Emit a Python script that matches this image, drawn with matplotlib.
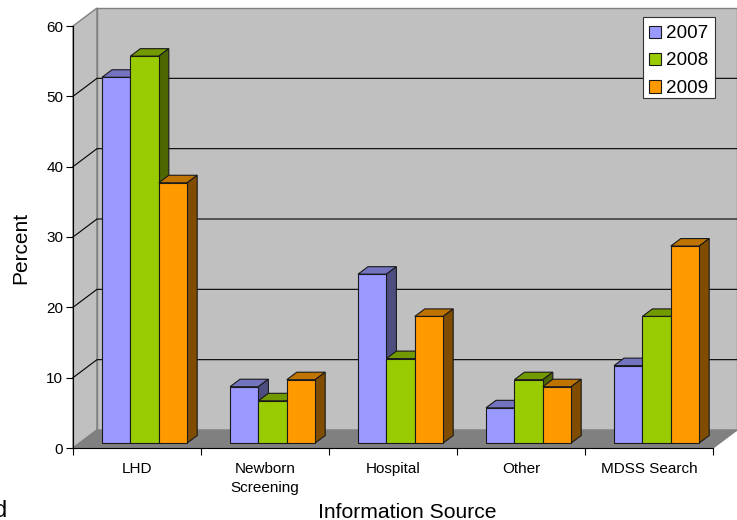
import matplotlib
matplotlib.use("Agg")
import matplotlib.pyplot as plt
from matplotlib.patches import Polygon, Rectangle

plt.rcParams['font.family'] = ['Liberation Sans', 'DejaVu Sans']

# data
categories = ["LHD", "Newborn\nScreening", "Hospital", "Other", "MDSS Search"]
years = ["2007", "2008", "2009"]
values_2007 = [52, 8, 24, 5, 11]
values_2008 = [55, 6, 12, 9, 18]
values_2009 = [37, 9, 18, 8, 28]
series = [values_2007, values_2008, values_2009]
y_ticks = [0, 10, 20, 30, 40, 50, 60]

# front, top, side colours of each series
colors = [("#9999FF", "#7373BF", "#4D4D80"),
          ("#99CC00", "#739900", "#4D6600"),
          ("#FF9900", "#BF7300", "#804D00")]
WALL = "#C0C0C0"
FLOOR = "#808080"

W, H = 737, 520
LEFT, RIGHT, BOTTOM, TOP = 73, 713, 448, 26

fig = plt.figure(figsize=(W / 100, H / 100), dpi=100)
ax = fig.add_axes([LEFT / W, 1 - BOTTOM / H, (RIGHT - LEFT) / W, (BOTTOM - TOP) / H])
ax.set_xlim(0, len(categories))
ax.set_ylim(0, 60)
ax.patch.set_visible(False)

# pixel sizes of the fake 3d depth, in data units
px_x = len(categories) / (RIGHT - LEFT)
px_y = 60 / (BOTTOM - TOP)
DX, DY = 24 * px_x, 18 * px_y


def poly(points, face, edge, lw, z):
    ax.add_patch(Polygon(points, closed=True, facecolor=face, edgecolor=edge,
                         linewidth=lw, zorder=z, clip_on=False, joinstyle="miter"))


def fig_rect(x0, y0, x1, y1, face, edge, lw, z):
    # rectangle given in picture pixels, y going down
    fig.add_artist(Rectangle((x0 / W, 1 - y1 / H), (x1 - x0) / W, (y1 - y0) / H,
                             transform=fig.transFigure, facecolor=face, edgecolor=edge,
                             linewidth=lw, zorder=z))


# walls and floor
n = len(categories)
poly([(0, 0), (DX, DY), (DX, 60 + DY), (0, 60)], WALL, FLOOR, 1.0, 1)
poly([(DX, DY), (n + DX, DY), (n + DX, 60 + DY), (DX, 60 + DY)], WALL, FLOOR, 1.0, 1)
poly([(0, 0), (n, 0), (n + DX, DY), (DX, DY)], FLOOR, FLOOR, 1.0, 1)

# grid lines on side wall and back wall
for t in y_ticks[1:-1]:
    ax.plot([0, DX, n + DX], [t, t + DY, t + DY], color="black", lw=0.8,
            zorder=2, clip_on=False)

# bars
bar_w = 28.4 * px_x
start = 29 * px_x
lift = 5 * px_y
bx, by = 10 * px_x, 7.5 * px_y
z = 3
for i in range(len(categories)):
    for j, vals in enumerate(series):
        v = vals[i]
        x0 = i + start + j * bar_w
        x1 = x0 + bar_w
        y0 = lift
        y1 = lift + v
        front, top, side = colors[j]
        poly([(x0, y1), (x1, y1), (x1 + bx, y1 + by), (x0 + bx, y1 + by)], top, "#1a1a1a", 0.8, z)
        poly([(x1, y0), (x1 + bx, y0 + by), (x1 + bx, y1 + by), (x1, y1)], side, "#1a1a1a", 0.8, z)
        poly([(x0, y0), (x1, y0), (x1, y1), (x0, y1)], front, "#1a1a1a", 0.8, z)
        z += 1

# axes
for s in ("top", "right"):
    ax.spines[s].set_visible(False)
ax.spines["left"].set_zorder(50)
ax.spines["bottom"].set_zorder(50)
ax.set_yticks(y_ticks)
ax.tick_params(axis="y", length=5, width=0.8, labelsize=11, pad=2)
ax.set_xticks(range(n + 1))
ax.set_xticklabels([])
ax.tick_params(axis="x", which="major", length=5, width=0.8)
ax.set_xticks([i + 0.5 for i in range(n)], minor=True)
ax.set_xticklabels(categories, minor=True, fontsize=11, linespacing=1.5)
ax.tick_params(axis="x", which="minor", length=0, pad=10)

fig.text(407 / W, 1 - 512 / H, "Information Source", ha="center", va="center", fontsize=15.2)
fig.text(21 / W, 1 - 247.5 / H, "Percent", ha="center", va="center", rotation=90, fontsize=15)
# leftover letter cut off at the edge of the original image
fig.text(7 / W, 1 - 517 / H, "d", ha="right", va="baseline", fontsize=17)

# legend box, the rows are not centred in it so it is placed by hand
fig_rect(643, 16.7, 715, 98, "white", "#333333", 0.8, 100)
row_bottoms = [38, 65.3, 92.7]
for k, yb in enumerate(row_bottoms):
    fig_rect(648.5, yb - 12.3, 661, yb, colors[k][0], "#1a1a1a", 0.8, 101)
    fig.text(665.8 / W, 1 - yb / H, years[k], ha="left", va="baseline", fontsize=13.6, zorder=102)

fig.savefig("out.png", dpi=100)
